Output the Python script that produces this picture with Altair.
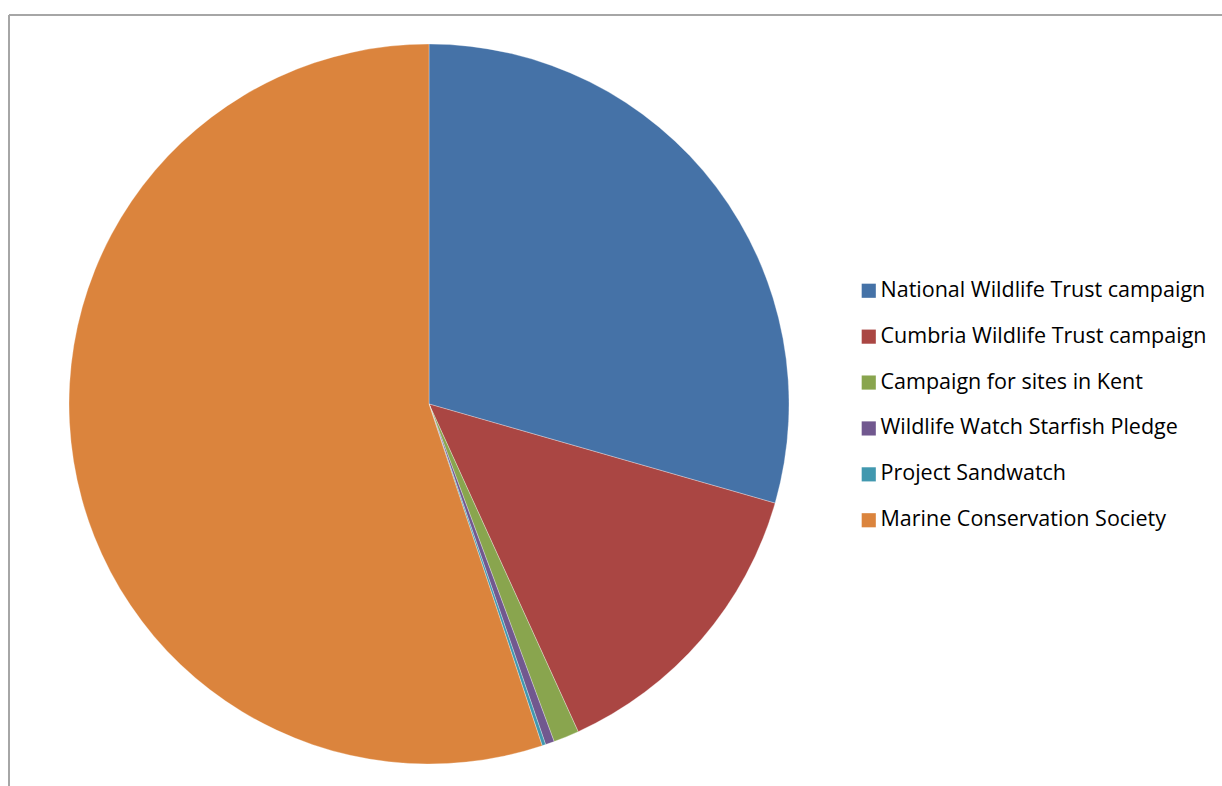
import altair as alt
import pandas as pd

categories = [
    "National Wildlife Trust campaign",
    "Cumbria Wildlife Trust campaign",
    "Campaign for sites in Kent",
    "Wildlife Watch Starfish Pledge",
    "Project Sandwatch",
    "Marine Conservation Society",
]
values = [29.44, 13.76, 1.15, 0.40, 0.16, 55.09]
colors = ["#4572A7", "#AA4643", "#89A54E", "#71588F", "#4198AF", "#DB843D"]

df = pd.DataFrame({"category": categories, "value": values, "order": list(range(len(categories)))})

pie = alt.Chart(df).mark_arc(radius=360, stroke="white", strokeWidth=0.3).encode(
    theta=alt.Theta("value:Q", stack=True),
    order=alt.Order("order:Q"),
    color=alt.Color(
        "category:N",
        sort=categories,
        scale=alt.Scale(domain=categories, range=colors),
        legend=alt.Legend(
            title=None,
            orient="none",
            legendX=858,
            legendY=280,
            symbolType="square",
            symbolSize=200,
            symbolStrokeWidth=0,
            labelFontSize=21.5,
            labelFont="Open Sans",
            labelColor="#000000",
            labelOffset=1,
            rowPadding=22.9,
            labelLimit=400,
        ),
    ),
    x=alt.value(429),
    y=alt.value(404),
)

frame_top = alt.Chart(df).mark_rule(color="#A6A6A6", strokeWidth=2).encode(
    x=alt.value(9), x2=alt.value(1222), y=alt.value(15)
)
frame_left = alt.Chart(df).mark_rule(color="#A6A6A6", strokeWidth=2).encode(
    x=alt.value(9), y=alt.value(15), y2=alt.value(786)
)

chart = alt.layer(frame_top, frame_left, pie).properties(
    width=1222, height=786, padding=0, autosize=alt.AutoSizeParams(type="none")
).configure_view(stroke=None)

chart.save("out.html", embed_options={"renderer": "svg", "actions": False})
